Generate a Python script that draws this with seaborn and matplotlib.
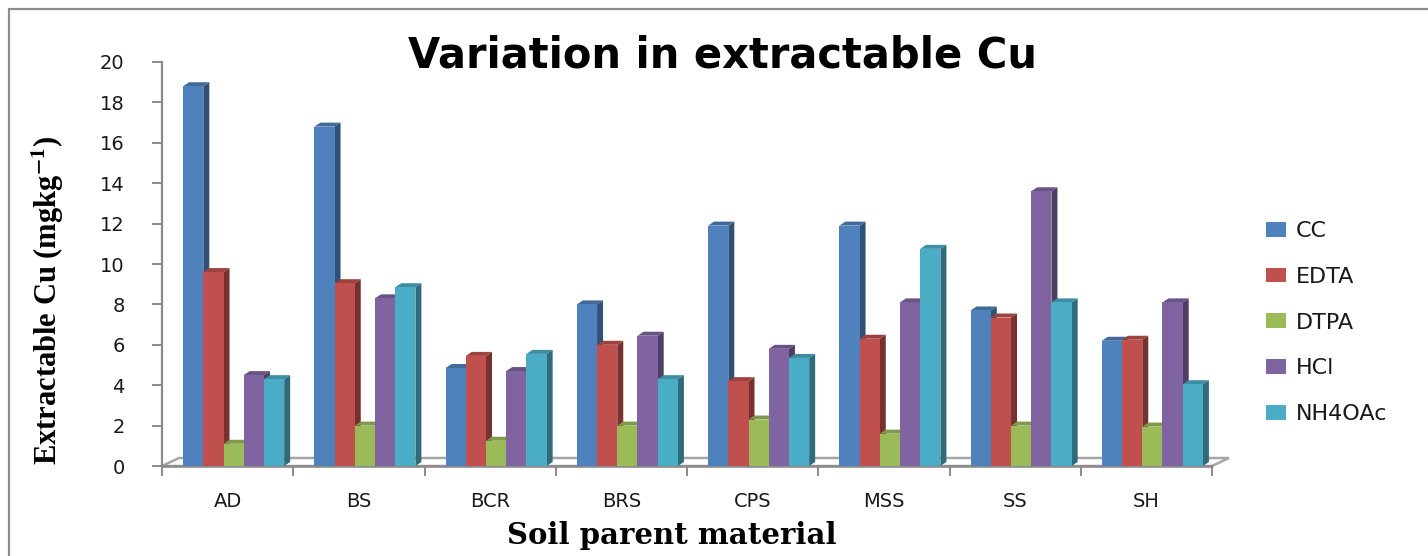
import numpy as np
import pandas as pd
import matplotlib
matplotlib.use("Agg")
import matplotlib.pyplot as plt
import matplotlib.colors as mcolors
from matplotlib.patches import Polygon
from matplotlib.lines import Line2D
import seaborn as sns

# Extractable Cu (mg/kg) by soil parent material and extractant
materials = ["AD", "BS", "BCR", "BRS", "CPS", "MSS", "SS", "SH"]
extractants = ["CC", "EDTA", "DTPA", "HCl", "NH4OAc"]
cc = [18.8, 16.8, 4.85, 8.0, 11.9, 11.9, 7.7, 6.2]
edta = [9.6, 9.05, 5.45, 6.0, 4.2, 6.3, 7.35, 6.25]
dtpa = [1.1, 2.0, 1.25, 2.0, 2.3, 1.6, 2.0, 1.95]
hcl = [4.5, 8.3, 4.7, 6.45, 5.8, 8.1, 13.6, 8.1]
nh4oac = [4.3, 8.85, 5.55, 4.3, 5.35, 10.75, 8.1, 4.05]
colors = ["#4F81BD", "#C0504D", "#9BBB59", "#8064A2", "#4BACC6"]

df = pd.DataFrame({
    "material": np.tile(materials, len(extractants)),
    "extractant": np.repeat(extractants, len(materials)),
    "value": np.concatenate([cc, edta, dtpa, hcl, nh4oac]),
})

sns.set_style("white")
plt.rcParams["font.family"] = ["DejaVu Sans"]
plt.rcParams["mathtext.fontset"] = "stix"
plt.rcParams["text.color"] = "#111111"

W, H = 1428, 556
fig = plt.figure(figsize=(W / 100, H / 100), dpi=100)
ax = fig.add_axes([162 / W, 90 / H, 1050 / W, 404 / H])

sns.barplot(data=df, x="material", y="value", hue="extractant",
            order=materials, hue_order=extractants, palette=colors,
            saturation=1, width=0.77, gap=0, ax=ax, legend=True,
            errorbar=None, linewidth=0, zorder=3)

ax.set_xlim(-0.5, len(materials) - 0.5)
ax.set_ylim(0, 20)
ax.set_yticks(np.arange(0, 21, 2))
ax.set_xlabel("")
ax.set_ylabel("")

# axes styling
for s in ["top", "right", "bottom"]:
    ax.spines[s].set_visible(False)
ax.spines["left"].set_color("#8a8a8a")
ax.spines["left"].set_linewidth(1.6)
ax.tick_params(axis="y", which="major", direction="out", length=7, width=1.4,
               color="#8a8a8a", pad=20, labelsize=14, left=True)
ax.tick_params(axis="x", which="major", length=0, pad=19, labelsize=14)
ax.set_xticks(np.arange(-0.5, len(materials)), minor=True)
ax.tick_params(axis="x", which="minor", direction="out", length=7, width=1.4,
               color="#8a8a8a", bottom=True)
for lab in ax.get_xticklabels() + ax.get_yticklabels():
    lab.set_color("#1a1a1a")

fig.canvas.draw()
to_disp = ax.transData.transform
to_data = ax.transData.inverted().transform

# pseudo-3D depth for bars (pixels)
DX, DY = 6, 4
SHIFT = 6

def shade(c, f):
    r, g, b = mcolors.to_rgb(c)
    return (r * f, g * f, b * f)

for k, (cont, col) in enumerate(zip(ax.containers, colors)):
    z = 3 + 0.1 * k
    for bar in cont:
        x0d, _ = to_disp((bar.get_x(), 0))
        bar.set_x(to_data((x0d + SHIFT, 0))[0])
        bar.set_zorder(z)
        xa, ya = to_disp((bar.get_x(), 0))
        xb, yb = to_disp((bar.get_x() + bar.get_width(), bar.get_height()))
        side = [(xb, ya), (xb + DX, ya + DY), (xb + DX, yb + DY), (xb, yb)]
        top = [(xa, yb), (xa + DX, yb + DY), (xb + DX, yb + DY), (xb, yb)]
        ax.add_patch(Polygon(to_data(side), closed=True, facecolor=shade(col, 0.62),
                             edgecolor="none", zorder=z - 0.01, clip_on=False))
        ax.add_patch(Polygon(to_data(top), closed=True, facecolor=shade(col, 0.82),
                             edgecolor="none", zorder=z - 0.01, clip_on=False))

# floor outline
FX, FY = 17, 8
xl, y0 = to_disp((-0.5, 0))
xr, _ = to_disp((len(materials) - 0.5, 0))
floor_pts = [(xl, y0), (xr, y0), (xr + FX, y0 + FY), (xl + FX, y0 + FY), (xl, y0)]
fp = to_data(floor_pts)
ax.plot(fp[:, 0], fp[:, 1], color="#a6a6a6", lw=1.8, zorder=2, clip_on=False,
        solid_joinstyle="miter")
ax.plot(fp[:2, 0], fp[:2, 1], color="#8a8a8a", lw=1.8, zorder=2.5, clip_on=False)

# legend
handles, labels = ax.get_legend_handles_labels()
leg = ax.legend(handles, labels, loc="upper left", bbox_to_anchor=(1266 / W, 1 - 221 / H),
                bbox_transform=fig.transFigure, frameon=False, fontsize=16,
                handlelength=0.9, handleheight=0.65, handletextpad=0.45,
                labelspacing=1.16, borderaxespad=0, borderpad=0)
for t in leg.get_texts():
    t.set_color("#1a1a1a")

# titles
fig.text(723 / W, 1 - 56 / H, "Variation in extractable Cu", ha="center", va="center",
         fontsize=30, fontweight="bold", family=["DejaVu Sans"], color="black")
fig.text(672 / W, 1 - 536 / H, "Soil parent material", ha="center", va="center",
         fontsize=21, fontweight="bold", family=["DejaVu Serif"], color="black")
fig.text(48 / W, 1 - 300 / H, r"Extractable Cu (mgkg$^{\mathbf{-1}}$)", ha="center",
         va="center", rotation=90, fontsize=22, fontweight="bold",
         family=["Liberation Serif"], color="black")

# chart frame
fig.add_artist(Line2D([9 / W, 9 / W], [0, 1 - 9 / H], transform=fig.transFigure,
                      color="#8c8c8c", lw=1.6))
fig.add_artist(Line2D([9 / W, 1], [1 - 9 / H, 1 - 9 / H], transform=fig.transFigure,
                      color="#8c8c8c", lw=1.6))

fig.savefig("out.png", dpi=100, facecolor="white")
